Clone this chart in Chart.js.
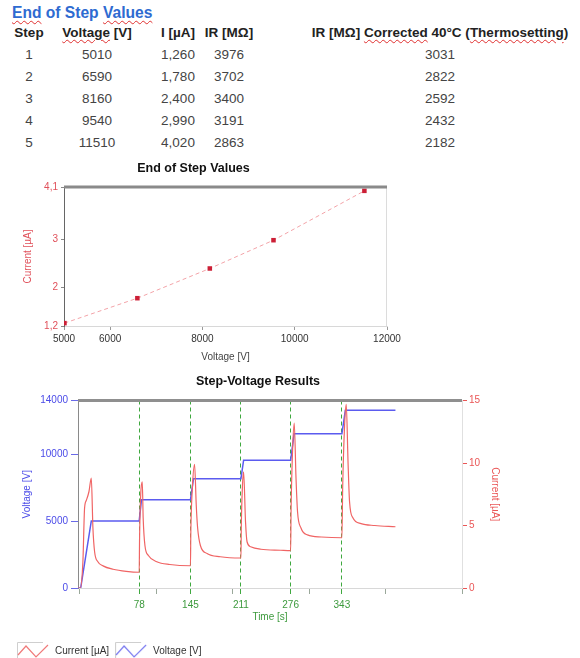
<!DOCTYPE html>
<html>
<head>
<meta charset="utf-8">
<script src="https://cdn.jsdelivr.net/npm/chart.js@4.4.1/dist/chart.umd.min.js"></script>
<style>
html, body { margin: 0; padding: 0; background: #fff; width: 580px; height: 658px; overflow: hidden; }
body { position: relative; font-family: "Liberation Sans", Arial, sans-serif; }
#heading { position: absolute; left: 12px; top: 3px; font-size: 15.6px; line-height: 20px; font-weight: bold;
  color: #2e6bd1; white-space: nowrap; }
.cell { position: absolute; transform: translateX(-50%); white-space: nowrap; font-size: 13.5px; line-height: 16px; color: #444; }
.head { font-weight: bold; color: #222; }
.sp { text-decoration: underline wavy #e03030; text-decoration-thickness: 1px; text-underline-offset: 2px; }
canvas { position: absolute; left: 0; }
#stepChart { top: 155px; }
#svChart { top: 372px; }
</style>
</head>
<body>
<div id="heading"><span class="sp">End</span> of Step <span class="sp">Values</span></div>
<div id="table"></div>
<canvas id="stepChart" width="422" height="210"></canvas>
<canvas id="svChart" width="505" height="294"></canvas>
<script>
// table / end of step values
var steps = [1, 2, 3, 4, 5];
var stepVoltage = [5010, 6590, 8160, 9540, 11510];
var stepCurrent = [1.26, 1.78, 2.40, 2.99, 4.02];
var stepIR = [3976, 3702, 3400, 3191, 2863];
var stepIRCorrected = [3031, 2822, 2592, 2432, 2182];
var headers = ['Step', 'Voltage [V]', 'I [µA]', 'IR [MΩ]', 'IR [MΩ] Corrected 40°C (Thermosetting)'];
var flagged = ['Voltage', 'Corrected', 'Thermosetting'];

// end of step chart axes
var voltageTicks = [5000, 6000, 8000, 10000, 12000];
var currentTicks = [1.2, 2, 3, 4.1];

// step-voltage results
var voltageTime = [-2, 1.5, 15.4, 78, 81, 145, 149, 211, 214.5, 276, 280.5, 343, 347.5, 413];
var voltageValue = [0, 0, 5010, 5010, 6590, 6590, 8160, 8160, 9540, 9540, 11510, 11510, 13280, 13280];
var currentTime = [-2, 1, 4.4, 6.6, 8.8, 12.3, 15.4, 17.5, 19.7, 24, 30.7, 43.8, 61, 78,
  78.5, 80, 82, 83.2, 85.5, 90, 101, 118, 145,
  145.5, 147.5, 150.4, 152.6, 154.4, 158, 166.7, 184, 211,
  211.5, 213, 214.5, 217, 219, 223.7, 237, 263, 276,
  276.5, 278.5, 280.7, 283, 285, 289.5, 298, 316, 343,
  344, 346.5, 348.7, 351, 353, 357.5, 368, 386, 413];
var currentValue = [0, 0, 2.1, 6.4, 7.0, 7.7, 8.8, 4.8, 2.9, 2.1, 1.77, 1.5, 1.33, 1.26,
  4, 7.5, 8.5, 5.6, 3.4, 2.6, 2.1, 1.88, 1.78,
  4.5, 8, 9.9, 6.6, 4.8, 3.4, 2.76, 2.5, 2.4,
  5, 8.2, 9.3, 5.3, 3.7, 3.3, 3.1, 3.02, 2.99,
  6, 11, 13.2, 8.8, 6.1, 4.8, 4.25, 4.08, 4.02,
  8, 13, 14.7, 10.1, 6.9, 5.6, 5.15, 5.0, 4.9];
var stepTimes = [78, 145, 211, 276, 343];
var timeTicks = [0, 100, 200, 300, 400, 500];
var voltageAxisTicks = [0, 5000, 10000, 14000];
var currentAxisTicks = [0, 5, 10, 15];

// ---- table ----
var colX = [29, 97, 178, 229, 440];
var tbl = document.getElementById('table');
function addCell(html, x, y, cls) {
  var d = document.createElement('div');
  d.className = 'cell' + (cls ? ' ' + cls : '');
  d.style.left = x + 'px';
  d.style.top = (y - 8) + 'px';
  d.innerHTML = html;
  tbl.appendChild(d);
}
headers.forEach(function (h, i) {
  var html = h;
  flagged.forEach(function (w) { html = html.replace(w, '<span class="sp">' + w + '</span>'); });
  addCell(html, colX[i], 33, 'head');
});
steps.forEach(function (s, r) {
  var y = 55 + r * 22;
  addCell(String(s), colX[0], y);
  addCell(String(stepVoltage[r]), colX[1], y);
  addCell(stepCurrent[r].toFixed(3).replace('.', ','), colX[2], y);
  addCell(String(stepIR[r]), colX[3], y);
  addCell(String(stepIRCorrected[r]), colX[4], y);
});

// ---- charts ----
Chart.defaults.font.family = '"Liberation Sans", Arial, sans-serif';
Chart.defaults.font.size = 10;
Chart.defaults.animation = false;

var framePlugin = {
  id: 'frame',
  afterDraw: function (chart, args, opts) {
    var ctx = chart.ctx, a = chart.chartArea;
    ctx.save();
    if (opts.right) {
      ctx.strokeStyle = opts.right;
      ctx.lineWidth = 1;
      ctx.beginPath();
      ctx.moveTo(a.right - 0.5, a.top);
      ctx.lineTo(a.right - 0.5, a.bottom);
      ctx.stroke();
    }
    ctx.strokeStyle = opts.top;
    ctx.lineWidth = 3;
    ctx.beginPath();
    ctx.moveTo(a.left, a.top);
    ctx.lineTo(a.right, a.top);
    ctx.stroke();
    ctx.restore();
  }
};

function makeIcon(color) {
  var c = document.createElement('canvas');
  c.width = 33; c.height = 18;
  var g = c.getContext('2d');
  g.strokeStyle = '#cfcfcf';
  g.lineWidth = 1;
  g.beginPath(); g.moveTo(0.5, 18); g.lineTo(0.5, 0.5); g.lineTo(26, 0.5); g.stroke();
  g.strokeStyle = color;
  g.lineWidth = 1.2;
  g.beginPath(); g.moveTo(1, 13); g.lineTo(9, 4); g.lineTo(19, 15); g.lineTo(31, 3); g.stroke();
  return c;
}

new Chart(document.getElementById('stepChart'), {
  type: 'line',
  data: {
    datasets: [{
      data: stepVoltage.map(function (v, i) { return {x: v, y: stepCurrent[i]}; }),
      borderColor: '#f3a3a8',
      borderWidth: 1,
      borderDash: [4, 3],
      pointStyle: 'rect',
      pointRadius: 3.2,
      pointBackgroundColor: '#cc1f36',
      pointBorderColor: '#cc1f36',
      pointBorderWidth: 0
    }]
  },
  options: {
    responsive: false,
    layout: {padding: {right: 35}},
    plugins: {
      legend: {display: false},
      tooltip: {enabled: false},
      title: {display: true, text: 'End of Step Values', color: '#111',
        font: {size: 12.5, weight: 'bold'}, padding: {top: 6, bottom: 11}},
      frame: {top: '#8a8a8a', right: '#dcdcdc'}
    },
    scales: {
      x: {
        type: 'linear', min: 5000, max: 12000,
        afterBuildTicks: function (s) { s.ticks = voltageTicks.map(function (v) { return {value: v}; }); },
        afterFit: function (s) { s.height = 39; },
        ticks: {color: '#333', padding: 3, maxRotation: 0, autoSkip: false,
          callback: function (v) { return String(v); }},
        grid: {drawOnChartArea: false, tickLength: 4, tickColor: '#999'},
        border: {color: '#d8d8d8'},
        title: {display: true, text: 'Voltage [V]', color: '#444', padding: {top: 0, bottom: 2}}
      },
      y: {
        min: 1.2, max: 4.1,
        afterBuildTicks: function (s) { s.ticks = currentTicks.map(function (v) { return {value: v}; }); },
        afterFit: function (s) { s.width = 64; },
        ticks: {color: '#e0505a', padding: 3,
          callback: function (v) { return String(v).replace('.', ','); }},
        grid: {drawOnChartArea: false, tickLength: 3, tickColor: '#888'},
        border: {color: '#666'},
        title: {display: true, text: 'Current [µA]', color: '#e0505a', padding: {top: 22, bottom: 0}}
      }
    }
  },
  plugins: [framePlugin]
});

var xTicks = timeTicks.concat(stepTimes).sort(function (a, b) { return a - b; });
function isStep(c) { return c.tick && stepTimes.indexOf(c.tick.value) >= 0; }

new Chart(document.getElementById('svChart'), {
  type: 'line',
  data: {
    datasets: [{
      label: 'Current [µA]',
      yAxisID: 'yI',
      data: currentTime.map(function (t, i) { return {x: t, y: currentValue[i]}; }),
      borderColor: '#f06464',
      borderWidth: 1.2,
      pointRadius: 0,
      pointStyle: makeIcon('#f07a7a'),
      cubicInterpolationMode: 'monotone'
    }, {
      label: 'Voltage [V]',
      yAxisID: 'yV',
      data: voltageTime.map(function (t, i) { return {x: t, y: voltageValue[i]}; }),
      borderColor: '#5b5bef',
      borderWidth: 1.5,
      pointRadius: 0,
      pointStyle: makeIcon('#7b7bf0')
    }]
  },
  options: {
    responsive: false,
    layout: {padding: {left: 11}},
    plugins: {
      tooltip: {enabled: false},
      title: {display: true, text: 'Step-Voltage Results', color: '#111',
        font: {size: 12.5, weight: 'bold'}, padding: {top: 2.5, bottom: 11}},
      legend: {position: 'bottom', align: 'start',
        labels: {usePointStyle: true, pointStyleWidth: 33, padding: 6, color: '#333', font: {size: 10}}},
      frame: {top: '#8f8f8f'}
    },
    scales: {
      x: {
        type: 'linear', min: -2, max: 500,
        afterBuildTicks: function (s) { s.ticks = xTicks.map(function (v) { return {value: v}; }); },
        afterFit: function (s) { s.height = 52; },
        ticks: {color: '#3d9a3d', padding: 5, maxRotation: 0, autoSkip: false,
          callback: function (v) { return stepTimes.indexOf(v) >= 0 ? String(v) : ''; }},
        grid: {
          drawOnChartArea: true, tickLength: 6, lineWidth: 1,
          color: function (c) { return isStep(c) ? '#3fa83f' : 'rgba(0,0,0,0)'; },
          tickColor: function (c) { return isStep(c) ? '#3fa83f' : '#9aa89a'; }
        },
        border: {color: '#d8d8d8', dash: [4, 3]},
        title: {display: true, text: 'Time [s]', color: '#3d9a3d', padding: {top: 0, bottom: 17}}
      },
      yV: {
        position: 'left', min: 0, max: 14000,
        afterBuildTicks: function (s) { s.ticks = voltageAxisTicks.map(function (v) { return {value: v}; }); },
        afterFit: function (s) { s.width = 67; },
        ticks: {color: '#4b4be8', padding: 3, callback: function (v) { return String(v); }},
        grid: {drawOnChartArea: false, tickLength: 7, tickColor: '#6a6ae8'},
        border: {color: '#8a8a8a'},
        title: {display: true, text: 'Voltage [V]', color: '#4b4be8', padding: {top: 10, bottom: 0}}
      },
      yI: {
        position: 'right', min: 0, max: 15,
        afterBuildTicks: function (s) { s.ticks = currentAxisTicks.map(function (v) { return {value: v}; }); },
        afterFit: function (s) { s.width = 43; },
        ticks: {color: '#ea5656', padding: 2},
        grid: {drawOnChartArea: false, tickLength: 5, tickColor: '#ea5656'},
        border: {color: '#e0e0e0'},
        title: {display: true, text: 'Current [µA]', color: '#ea5656', padding: {top: 4, bottom: 0}}
      }
    }
  },
  plugins: [framePlugin]
});
</script>
</body>
</html>
